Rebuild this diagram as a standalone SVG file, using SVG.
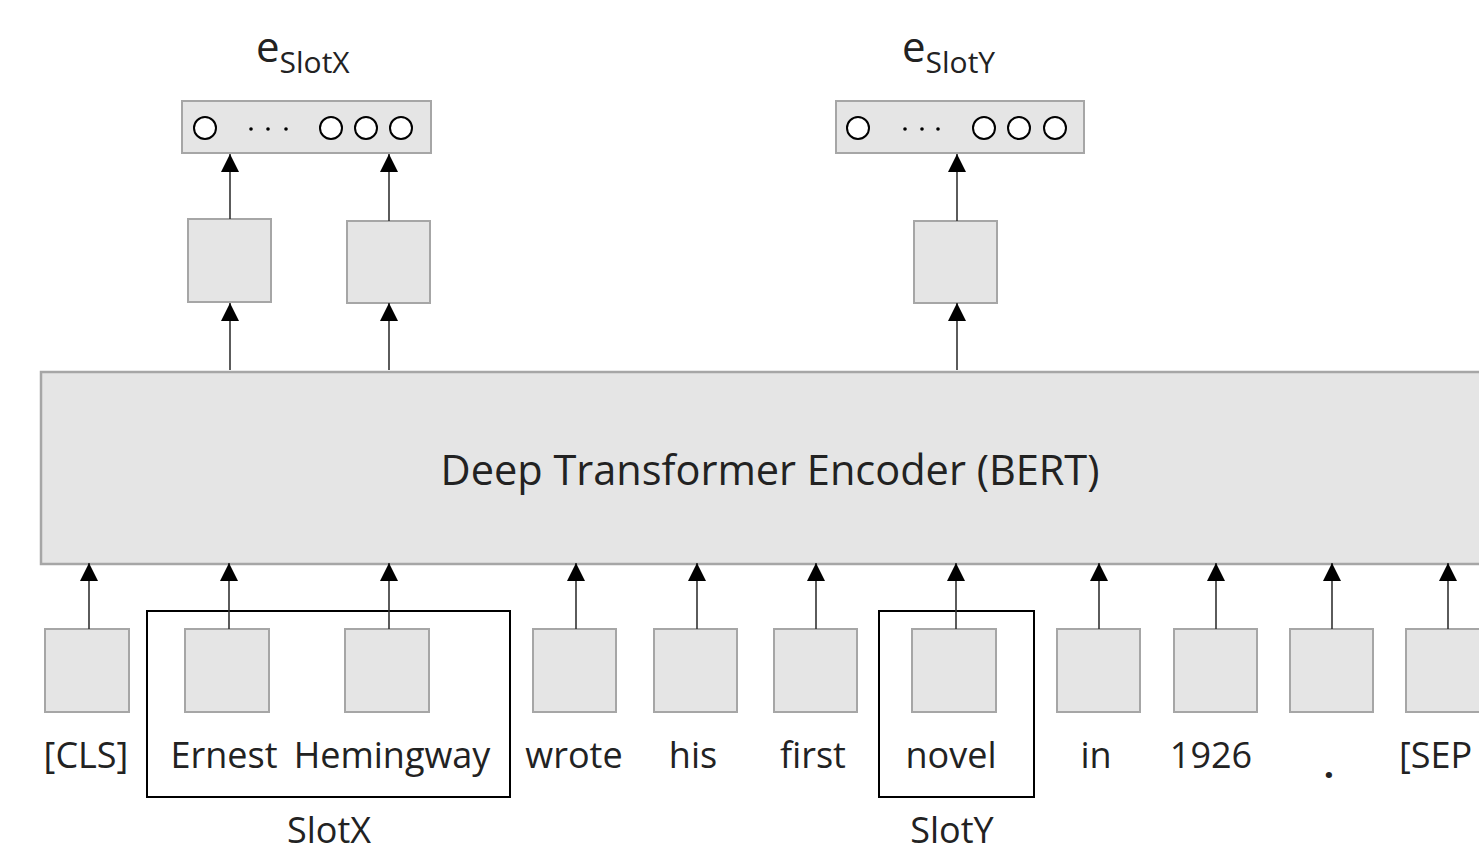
<svg xmlns="http://www.w3.org/2000/svg" width="1479" height="854" viewBox="0 0 1479 854">
  <defs>
    <marker id="arrow" viewBox="0 0 18 18" refX="18" refY="9" markerWidth="18" markerHeight="18" markerUnits="userSpaceOnUse" orient="auto">
      <path d="M0,0 L18,9 L0,18 z" fill="#000"/>
    </marker>
  </defs>
  <style>
    .cell { fill: #e5e5e5; stroke: #a6a6a6; stroke-width: 2; }
    .enc { fill: #e5e5e5; stroke: #a6a6a6; stroke-width: 2.5; }
    .group { fill: none; stroke: #000; stroke-width: 2; }
    .edge { stroke: #333; stroke-width: 1.6; fill: none; marker-end: url(#arrow); }
    .unit { fill: #fff; stroke: #000; stroke-width: 2; }
    .dot { fill: #000; }
    text { font-family: "Open Sans", "Noto Sans", "DejaVu Sans", sans-serif; fill: #222; }
    .tok { font-size: 36px; text-anchor: middle; }
    .title { font-size: 41.5px; text-anchor: middle; }
    .lbl { font-size: 42px; }
    .sub { font-size: 30px; }
  </style>

  <rect width="1479" height="854" fill="#fff"/>

  <!-- encoder -->
  <g id="encoder">
    <rect class="enc" x="41" y="372" width="1460" height="192"/>
    <text class="title" x="770" y="485">Deep Transformer Encoder (BERT)</text>
  </g>

  <!-- slot embedding vectors -->
  <g id="e-slotx">
    <rect class="cell" x="182" y="101" width="249" height="52"/>
    <circle class="unit" cx="205" cy="128" r="11"/>
    <circle class="dot" cx="251" cy="129" r="1.8"/>
    <circle class="dot" cx="268" cy="129" r="1.8"/>
    <circle class="dot" cx="286" cy="129" r="1.8"/>
    <circle class="unit" cx="331" cy="128" r="11"/>
    <circle class="unit" cx="366" cy="128" r="11"/>
    <circle class="unit" cx="401" cy="128" r="11"/>
    <text class="lbl" x="256" y="62">e<tspan class="sub" dy="11">SlotX</tspan></text>
  </g>
  <g id="e-sloty">
    <rect class="cell" x="836" y="101" width="248" height="52"/>
    <circle class="unit" cx="858" cy="128" r="11"/>
    <circle class="dot" cx="905" cy="129" r="1.8"/>
    <circle class="dot" cx="922" cy="129" r="1.8"/>
    <circle class="dot" cx="938" cy="129" r="1.8"/>
    <circle class="unit" cx="984" cy="128" r="11"/>
    <circle class="unit" cx="1019" cy="128" r="11"/>
    <circle class="unit" cx="1055" cy="128" r="11"/>
    <text class="lbl" x="902" y="62">e<tspan class="sub" dy="11">SlotY</tspan></text>
  </g>

  <!-- output hidden states -->
  <g id="h-ernest"><rect class="cell" x="188" y="219" width="83" height="83"/></g>
  <g id="h-hemingway"><rect class="cell" x="347" y="221" width="83" height="82"/></g>
  <g id="h-novel"><rect class="cell" x="914" y="221" width="83" height="82"/></g>

  <!-- input tokens -->
  <g id="tok-cls"><rect class="cell" x="45" y="629" width="84" height="83"/><text class="tok" x="86" y="768">[CLS]</text></g>
  <g id="tok-ernest"><rect class="cell" x="185" y="629" width="84" height="83"/><text class="tok" x="224" y="768">Ernest</text></g>
  <g id="tok-hemingway"><rect class="cell" x="345" y="629" width="84" height="83"/><text class="tok" x="392" y="768">Hemingway</text></g>
  <g id="tok-wrote"><rect class="cell" x="533" y="629" width="83" height="83"/><text class="tok" x="574" y="768">wrote</text></g>
  <g id="tok-his"><rect class="cell" x="654" y="629" width="83" height="83"/><text class="tok" x="693" y="768">his</text></g>
  <g id="tok-first"><rect class="cell" x="774" y="629" width="83" height="83"/><text class="tok" x="813" y="768">first</text></g>
  <g id="tok-novel"><rect class="cell" x="912" y="629" width="84" height="83"/><text class="tok" x="951" y="768">novel</text></g>
  <g id="tok-in"><rect class="cell" x="1057" y="629" width="83" height="83"/><text class="tok" x="1096" y="768">in</text></g>
  <g id="tok-1926"><rect class="cell" x="1174" y="629" width="83" height="83"/><text class="tok" x="1211" y="768">1926</text></g>
  <g id="tok-period"><rect class="cell" x="1290" y="629" width="83" height="83"/><text class="tok" x="1329" y="778" style="font-weight:bold">.</text></g>
  <g id="tok-sep"><rect class="cell" x="1406" y="629" width="83" height="83"/><text x="1399" y="768" style="font-size:36px">[SEP</text></g>

  <!-- slot spans -->
  <g id="slotx">
    <rect class="group" x="147" y="611" width="363" height="186"/>
    <text class="tok" x="329" y="843">SlotX</text>
  </g>
  <g id="sloty">
    <rect class="group" x="879" y="611" width="155" height="186"/>
    <text class="tok" x="952" y="843">SlotY</text>
  </g>

  <!-- connectors -->
  <g id="connectors">
    <line class="edge" x1="89" y1="629" x2="89" y2="563"/>
    <line class="edge" x1="229" y1="629" x2="229" y2="563"/>
    <line class="edge" x1="389" y1="629" x2="389" y2="563"/>
    <line class="edge" x1="576" y1="629" x2="576" y2="563"/>
    <line class="edge" x1="697" y1="629" x2="697" y2="563"/>
    <line class="edge" x1="816" y1="629" x2="816" y2="563"/>
    <line class="edge" x1="956" y1="629" x2="956" y2="563"/>
    <line class="edge" x1="1099" y1="629" x2="1099" y2="563"/>
    <line class="edge" x1="1216" y1="629" x2="1216" y2="563"/>
    <line class="edge" x1="1332" y1="629" x2="1332" y2="563"/>
    <line class="edge" x1="1448" y1="629" x2="1448" y2="563"/>

    <line class="edge" x1="230" y1="370" x2="230" y2="303"/>
    <line class="edge" x1="389" y1="370" x2="389" y2="303"/>
    <line class="edge" x1="957" y1="370" x2="957" y2="303"/>

    <line class="edge" x1="230" y1="219" x2="230" y2="154"/>
    <line class="edge" x1="389" y1="221" x2="389" y2="154"/>
    <line class="edge" x1="957" y1="221" x2="957" y2="154"/>
  </g>
</svg>
